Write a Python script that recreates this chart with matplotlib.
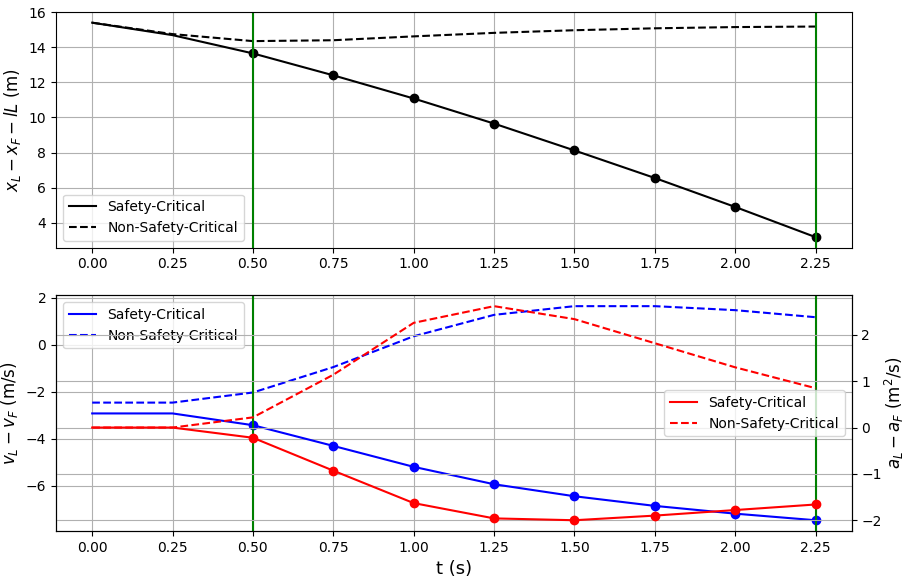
import matplotlib
matplotlib.use('Agg')
import matplotlib.pyplot as plt

t = [0.0, 0.25, 0.5, 0.75, 1.0, 1.25, 1.5, 1.75, 2.0, 2.25]

# gap x_L - x_F - lL (m)
gap_sc = [15.4, 14.69, 13.65, 12.4, 11.08, 9.65, 8.12, 6.55, 4.9, 3.18]
gap_nsc = [15.4, 14.75, 14.35, 14.4, 14.62, 14.82, 14.97, 15.08, 15.15, 15.18]

# relative speed v_L - v_F (m/s)
dv_sc = [-2.92, -2.92, -3.42, -4.3, -5.19, -5.93, -6.44, -6.85, -7.18, -7.46]
dv_nsc = [-2.46, -2.46, -2.03, -0.95, 0.36, 1.27, 1.64, 1.64, 1.47, 1.17]

# relative accel a_L - a_F
da_sc = [0.0, 0.0, -0.22, -0.93, -1.63, -1.96, -2.0, -1.9, -1.78, -1.66]
da_nsc = [0.0, 0.0, 0.22, 1.14, 2.26, 2.62, 2.34, 1.82, 1.3, 0.85]

window = [0.5, 2.25]
i0 = t.index(window[0])

fig, (ax1, ax2) = plt.subplots(2, 1, figsize=(9.08, 5.79))
plt.subplots_adjust(left=0.0617, right=0.938, top=0.979, bottom=0.083, hspace=0.203)

ax1.plot(t, gap_sc, 'k-', label='Safety-Critical')
ax1.plot(t, gap_nsc, 'k--', label='Non-Safety-Critical')
ax1.plot(t[i0:], gap_sc[i0:], 'ko')
for x in window:
    ax1.axvline(x, color='green')
ax1.set_ylim(2.58, 16)
ax1.set_ylabel('$x_L - x_F - lL$ (m)', fontsize=12)
ax1.grid(True)
ax1.legend(loc='lower left')

ax2.plot(t, dv_sc, 'b-', label='Safety-Critical')
ax2.plot(t, dv_nsc, 'b--', label='Non-Safety-Critical')
ax2.plot(t[i0:], dv_sc[i0:], 'bo')
for x in window:
    ax2.axvline(x, color='green')
ax2.set_ylabel('$v_L - v_F$ (m/s)', fontsize=12)
ax2.set_xlabel('t (s)', fontsize=13)
ax2.grid(True)
ax2.legend(loc='upper left')

ax3 = ax2.twinx()
ax3.plot(t, da_sc, 'r-', label='Safety-Critical')
ax3.plot(t, da_nsc, 'r--', label='Non-Safety-Critical')
ax3.plot(t[i0:], da_sc[i0:], 'ro')
ax3.set_ylabel('$a_L - a_F$ (m$^2$/s)', fontsize=12, labelpad=1)
ax3.grid(True)
ax3.legend(loc='center right')

ax1.set_xticks(t)
ax2.set_xticks(t)

plt.savefig('out.png', dpi=100)
